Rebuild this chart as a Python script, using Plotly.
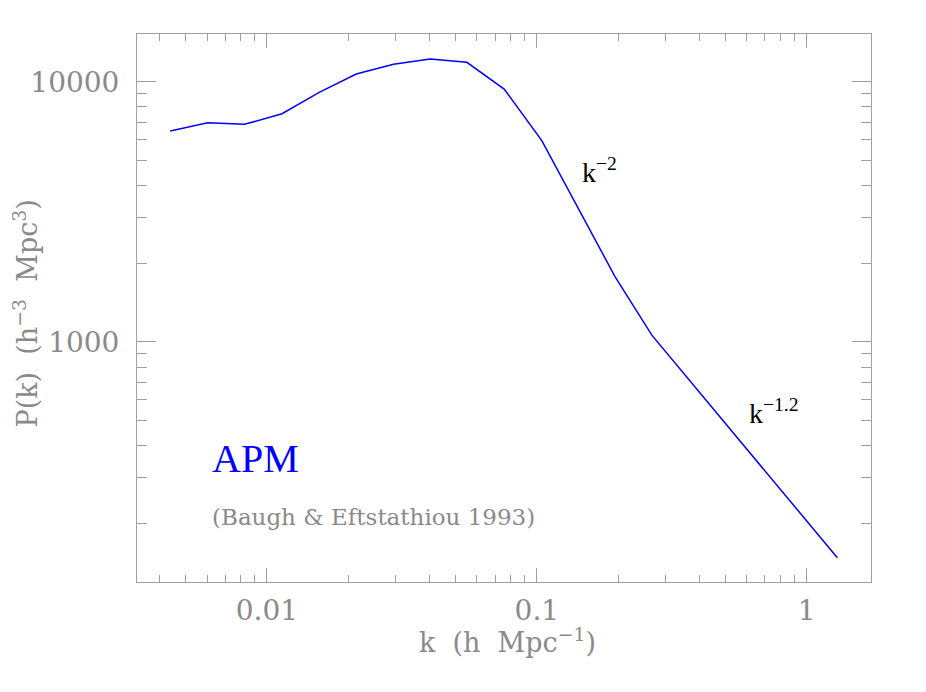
import plotly.graph_objects as go

# APM galaxy power spectrum (Baugh & Efstathiou 1993)
k_vals = [0.00438, 0.00603, 0.00826, 0.01137, 0.01562, 0.02142, 0.02944, 0.04025,
          0.05504, 0.07565, 0.1043, 0.1428, 0.1950, 0.2667, 0.3660, 0.5025,
          0.6888, 0.9445, 1.298]
pk_vals = [6463, 6958, 6859, 7532, 9105, 10706, 11666, 12229,
           11875, 9374, 5939, 3251, 1778, 1061, 716, 483,
           326, 220, 148]

x_major = [0.01, 0.1, 1]
x_major_labels = ["0.01", "0.1", "1"]
x_minor = [0.004, 0.005, 0.006, 0.007, 0.008, 0.009,
           0.02, 0.03, 0.04, 0.05, 0.06, 0.07, 0.08, 0.09,
           0.2, 0.3, 0.4, 0.5, 0.6, 0.7, 0.8, 0.9]
y_major = [1000, 10000]
y_major_labels = ["1000", "10000"]
y_minor = [200, 300, 400, 500, 600, 700, 800, 900,
           2000, 3000, 4000, 5000, 6000, 7000, 8000, 9000]

GREY = "#8a8a8a"
AXIS_GREY = "#a0a0a0"
SERIF = "DejaVu Serif"

fig = go.Figure()
fig.add_trace(go.Scatter(x=k_vals, y=pk_vals, mode="lines",
                         line=dict(color="#0000ff", width=1.5),
                         showlegend=False, hoverinfo="skip"))

common_axis = dict(type="log", showgrid=False, zeroline=False, showline=True,
                   linecolor=AXIS_GREY, linewidth=1, mirror="allticks",
                   ticks="inside", tickcolor=AXIS_GREY, tickwidth=1,
                   tickfont=dict(family=SERIF, size=28, color=GREY),
                   tickmode="array")

fig.update_xaxes(**common_axis, range=[-2.4815, 0.238],
                 tickvals=x_major, ticktext=x_major_labels, ticklen=14,
                 ticklabelstandoff=3,
                 minor=dict(tickmode="array", tickvals=x_minor, ticks="inside",
                            ticklen=7, tickcolor=AXIS_GREY, tickwidth=1, showgrid=False))
fig.update_yaxes(**common_axis, range=[2.0769, 4.1835],
                 tickvals=y_major, ticktext=y_major_labels, ticklen=19,
                 ticklabelstandoff=11,
                 minor=dict(tickmode="array", tickvals=y_minor, ticks="inside",
                            ticklen=10, tickcolor=AXIS_GREY, tickwidth=1, showgrid=False))

annotations = [
    dict(x=0.505, y=0, xref="paper", yref="paper", yshift=-58, showarrow=False,
         text="k&nbsp; (h&nbsp; Mpc<sup>−1</sup>)", xanchor="center", yanchor="middle",
         font=dict(family=SERIF, size=27, color=GREY)),
    dict(x=0, y=0.49, xref="paper", yref="paper", xshift=-112, showarrow=False,
         text="P(k)&nbsp; (h<sup>−3</sup>&nbsp; Mpc<sup>3</sup>)", textangle=-90,
         xanchor="center", yanchor="middle",
         font=dict(family=SERIF, size=27, color=GREY)),
    dict(x=-0.84, y=3.66, xref="x", yref="y", showarrow=False,
         text="k<sup>−2</sup>", xanchor="left", yanchor="middle",
         font=dict(family="Liberation Serif", size=28, color="black")),
    dict(x=-0.223, y=2.734, xref="x", yref="y", showarrow=False,
         text="k<sup>−1.2</sup>", xanchor="left", yanchor="middle",
         font=dict(family="Liberation Serif", size=28, color="black")),
    dict(x=-2.21, y=2.55, xref="x", yref="y", showarrow=False,
         text="APM", xanchor="left", yanchor="middle",
         font=dict(family="Liberation Serif", size=40, color="#0000ff")),
    dict(x=-2.21, y=2.328, xref="x", yref="y", showarrow=False,
         text="(Baugh & Eftstathiou 1993)", xanchor="left", yanchor="middle",
         font=dict(family=SERIF, size=23, color=GREY)),
]

fig.update_layout(width=918, height=684, margin=dict(l=129, r=55, t=26, b=110),
                  plot_bgcolor="white", paper_bgcolor="white",
                  annotations=annotations)

fig.write_html("out.html")
